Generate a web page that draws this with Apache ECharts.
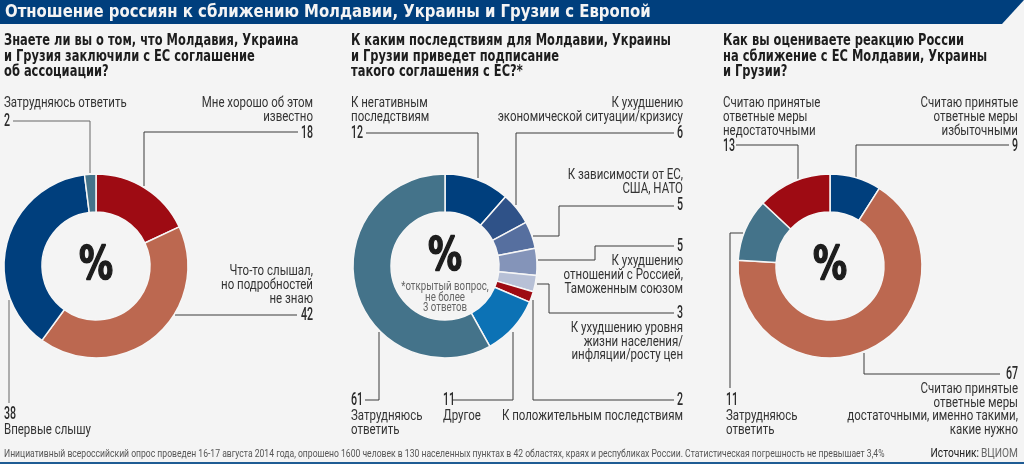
<!DOCTYPE html>
<html><head><meta charset="utf-8">
<style>html,body{margin:0;padding:0;background:#f4f4f4}#c{width:1024px;height:464px}</style>
<script src="https://cdn.jsdelivr.net/npm/echarts@6/dist/echarts.min.js"></script>
</head><body><div id="c"></div><script>
const awareNames=['Мне хорошо об этом известно','Что-то слышал, но подробностей не знаю','Впервые слышу','Затрудняюсь ответить'];
const awareValues=[18,42,38,2];
const effectNames=['К негативным последствиям','К ухудшению экономической ситуации/кризису','К зависимости от ЕС, США, НАТО','К ухудшению отношений с Россией, Таможенным союзом','К ухудшению уровня жизни населения/инфляции/росту цен','К положительным последствиям','Другое','Затрудняюсь ответить'];
const effectValues=[12,6,5,5,3,2,11,61];
const reactNames=['Считаю принятые ответные меры избыточными','Считаю принятые ответные меры достаточными, именно такими, какие нужно','Затрудняюсь ответить','Считаю принятые ответные меры недостаточными'];
const reactValues=[9,67,11,13];
const awareColors=['#9e0b13','#bc6850','#003f7d','#44738a'];
const effectColors=['#003f7d','#2f5288','#566f9f','#8494b9','#b7c0d6','#9e0b13','#0c72b5','#44738a'];
const reactColors=['#003f7d','#bc6850','#44738a','#9e0b13'];
const BODY='Roboto,sans-serif';
const COND='"DejaVu Sans Condensed","DejaVu Sans",sans-serif';
const INK='#2b2b2b';
function pie(names,values,colors,cx){
  return {type:'pie',center:[cx,266],radius:[54,92],startAngle:90,clockwise:true,silent:true,animation:false,
    label:{show:false},labelLine:{show:false},
    itemStyle:{borderColor:'#f6f6f6',borderWidth:1.5},
    data:values.map((v,i)=>({name:names[i],value:v,itemStyle:{color:colors[i]}}))};
}
const g=[];
function T(x,y,text,o={}){
  const style={text,fill:o.fill||INK,align:o.align||'left',verticalAlign:'middle',font:(o.weight||'normal')+' '+(o.size||14)+'px '+(o.family||BODY)};
  if(o.stroke){style.stroke=o.fill||INK;style.lineWidth=o.stroke;}
  g.push({type:'text',silent:true,x,y,scaleX:o.sx||1,style});
}
function lines(x,ys,arr,align){arr.forEach((s,i)=>T(x,ys[i],s,{align,size:14,sx:0.82,fill:'#333'}))}
function num(x,y,v,align){T(x,y,String(v),{align,size:19,sx:0.56,weight:500,fill:INK})}
function L(pts,color){g.push({type:'polyline',silent:true,shape:{points:pts},style:{stroke:color||'#3a3a3a',lineWidth:1,fill:null}})}
// title band
g.push({type:'polygon',silent:true,shape:{points:[[0,0],[1024,0],[1002,24],[0,24]]},style:{fill:'#003f7d'}});
g.push({type:'rect',silent:true,shape:{x:0,y:462,width:1024,height:2},style:{fill:'#1f5c94'}});
T(5,12,'Отношение россиян к сближению Молдавии, Украины и Грузии с Европой',{size:18,sx:0.92,weight:'bold',family:COND,fill:'#f4f4f4'});
// questions
[[4,['Знаете ли вы о том, что Молдавия, Украина','и Грузия заключили с ЕС соглашение','об ассоциации?']],
 [351,['К каким последствиям для Молдавии, Украины','и Грузии приведет подписание','такого соглашения с ЕС?*']],
 [723,['Как вы оцениваете реакцию России','на сближение с ЕС Молдавии, Украины','и Грузии?']]].forEach(([x,a])=>a.forEach((s,i)=>T(x,[41,57,72][i],s,{size:15,sx:0.85,weight:'bold',family:COND,fill:'#1d1d1d'})));
// first donut
lines(4,[103],['Затрудняюсь ответить']);num(4,121,awareValues[3]);
L([[13,121],[90,121],[90,173]],'#666');
lines(313,[103,117],['Мне хорошо об этом','известно'],'right');num(313,133,awareValues[0],'right');
L([[298,132],[144,132],[144,186]]);
lines(313,[271,285,299],['Что-то слышал,','но подробностей','не знаю'],'right');num(313,315,awareValues[1],'right');
L([[175,315],[297,315]]);
num(4,414,awareValues[2]);lines(4,[430],['Впервые слышу']);
L([[9,300],[9,403]],'#666');
// second donut
lines(351,[103,117],['К негативным','последствиям']);num(351,133,effectValues[0]);
L([[366,133],[478,133],[478,178]]);
lines(683,[103,117],['К ухудшению','экономической ситуации/кризису'],'right');num(683,133,effectValues[1],'right');
L([[674,133],[516,133],[516,205]]);
lines(683,[175,189],['К зависимости от ЕС,','США, НАТО'],'right');num(683,205,effectValues[2],'right');
L([[674,206],[559,206],[559,236],[533,236]]);
num(683,246,effectValues[3],'right');lines(683,[261,275,289],['К ухудшению','отношений с Россией,','Таможенным союзом'],'right');
L([[674,246],[595,246],[595,260],[538,260]]);
num(683,313,effectValues[4],'right');lines(683,[328,342,355],['К ухудшению уровня','жизни населения/','инфляции/росту цен'],'right');
L([[674,313],[549,313],[549,284],[537,284]]);
num(683,400,effectValues[5],'right');lines(683,[416],['К положительным последствиям'],'right');
L([[674,400],[533,400],[533,300]]);
num(443,400,effectValues[6]);lines(443,[416],['Другое']);
L([[453,400],[513,400],[513,332]]);
num(351,400,effectValues[7]);lines(351,[416,430],['Затрудняюсь','ответить']);
L([[365,400],[379,400],[379,332]]);
// third donut
lines(723,[103,117,131],['Считаю принятые','ответные меры','недостаточными']);num(723,146,reactValues[3]);
L([[736,145],[798,145],[798,179]]);
lines(1018,[103,117,131],['Считаю принятые','ответные меры','избыточными'],'right');num(1018,146,reactValues[0],'right');
L([[1009,145],[856,145],[856,177]]);
num(726,400,reactValues[2]);lines(726,[416,430],['Затрудняюсь','ответить']);
L([[743,233],[730,233],[730,388]]);
num(1018,374,reactValues[1],'right');lines(1018,[389,403,416,430],['Считаю принятые','ответные меры','достаточными, именно такими,','какие нужно'],'right');
L([[1000,374],[864,374],[864,353]]);
// centres
[[96,267],[445,258],[830,267]].forEach(([x,y])=>T(x,y,'%',{size:46,sx:0.74,weight:'bold',stroke:1.6,family:'"DejaVu Sans",sans-serif',align:'center',fill:'#1d1d1d'}));
['*открытый вопрос,','не более','3 ответов'].forEach((s,i)=>T(445,[287,298,308][i],s,{size:12,sx:0.81,align:'center',fill:'#666'}));
// footer
T(4,454,'Инициативный всероссийский опрос проведен 16-17 августа 2014 года, опрошено 1600 человек в 130 населенных пунктах в 42 областях, краях и республиках России. Статистическая погрешность не превышает 3,4%',{size:10.5,sx:0.818,fill:'#555'});
T(1018,454,'ВЦИОМ',{size:12,sx:0.85,align:'right',fill:'#666'});
T(979,454,'Источник:',{size:12,sx:0.85,align:'right',fill:'#222'});
const chart=echarts.init(document.getElementById('c'),null,{renderer:'canvas'});
chart.setOption({animation:false,backgroundColor:'#f4f4f4',
  series:[pie(awareNames,awareValues,awareColors,96),pie(effectNames,effectValues,effectColors,445),pie(reactNames,reactValues,reactColors,830)],
  graphic:{elements:g}});
</script></body></html>
